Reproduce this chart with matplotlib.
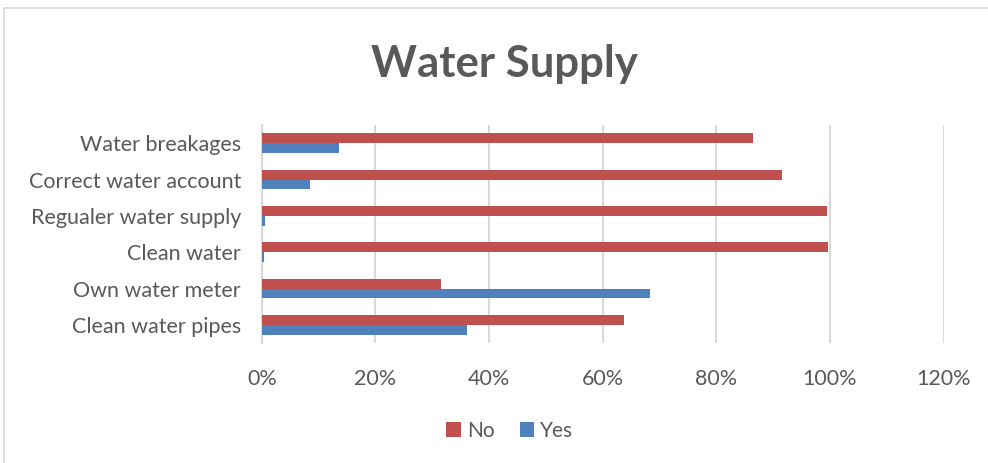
import matplotlib.pyplot as plt
import numpy as np
from matplotlib.patches import Rectangle
from matplotlib.ticker import PercentFormatter

# data, bottom to top
categories = ["Clean water pipes", "Own water meter", "Clean water",
              "Regualer water supply", "Correct water account", "Water breakages"]
no_values = [0.637, 0.315, 0.997, 0.994, 0.915, 0.865]
yes_values = [0.362, 0.684, 0.003, 0.005, 0.084, 0.135]
x_ticks = [0, 0.2, 0.4, 0.6, 0.8, 1.0, 1.2]

plt.rcParams['font.family'] = ['Lato', 'DejaVu Sans']
text_color = "#595959"

fig = plt.figure(figsize=(9.88, 4.63), dpi=100)
ax = fig.add_axes([0.265, 0.259, 0.690, 0.471])

# chart border
fig.patches.append(Rectangle((0.004, -0.01), 1.2, 0.993, transform=fig.transFigure,
                             fill=False, edgecolor="#d9d9d9", linewidth=1.2))

y = np.arange(len(categories))
h = 0.27
ax.barh(y + h / 2, no_values, height=h, color="#c0504d", label="No", zorder=3)
ax.barh(y - h / 2, yes_values, height=h, color="#4f81bd", label="Yes", zorder=3)

ax.set_xlim(0, 1.2)
ax.set_ylim(-0.5, len(categories) - 0.5)
ax.set_xticks(x_ticks)
ax.xaxis.set_major_formatter(PercentFormatter(1.0, decimals=0))
ax.set_yticks(y)
ax.set_yticklabels(categories)
ax.tick_params(axis="both", length=0, labelsize=15.5, labelcolor=text_color)
ax.tick_params(axis="x", pad=19)
ax.tick_params(axis="y", pad=15)
ax.grid(axis="x", color="#d9d9d9", linewidth=1.5, zorder=0)
for s in ["top", "right", "bottom"]:
    ax.spines[s].set_visible(False)
ax.spines["left"].set_color("#d9d9d9")
ax.spines["left"].set_linewidth(1.5)

fig.text(0.511, 0.862, "Water Supply", ha="center", va="center",
         fontsize=31.5, fontweight="bold", color=text_color)

fig.legend(loc="center", bbox_to_anchor=(0.516, 0.07), ncol=2, frameon=False,
           fontsize=15, labelcolor=text_color, handlelength=0.7, handleheight=0.7,
           handletextpad=0.3, columnspacing=1.2)

fig.savefig("out.png", dpi=100)
